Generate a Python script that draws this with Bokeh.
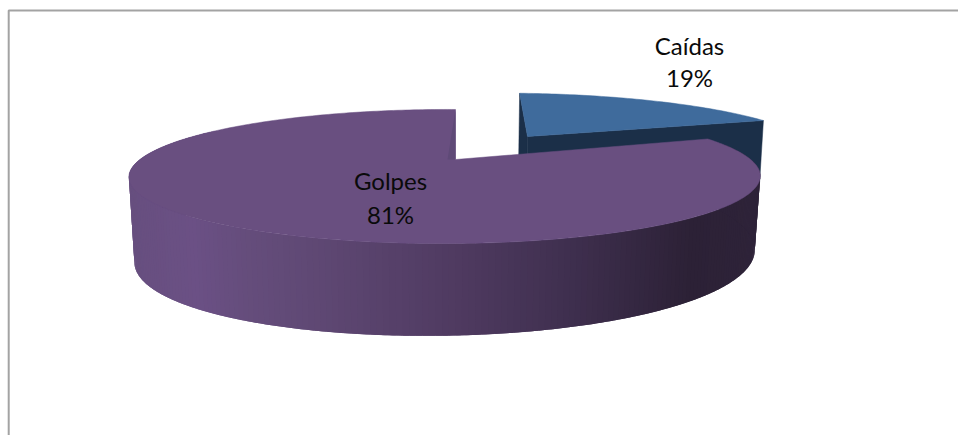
import math
from bokeh.plotting import figure
from bokeh.embed import file_html
from bokeh.resources import INLINE
from bokeh.core.properties import value

categories = ["Caídas", "Golpes"]
values = [19, 81]

W, H = 958, 435

# perspective projection of the pie disc into page pixels
X0, Y0 = 455.0, 159.0     # projected centre of the disc
A, B = 305.0, 62.7        # horizontal / vertical scale
KX, KY = 0.0335, 0.2537   # perspective terms
CAIDAS_OFFSET = (0.2626, 0.408)  # explosion of the small slice
CAIDAS_R = 1.05
CAIDAS_ROT = 1.5


def project(x, y):
    w = 1 + KX * x + KY * y
    return X0 + A * x / w, Y0 - B * y / w


def depth(x, y):
    return 75.3 - 5.8 * x - 16.7 * y


def rim(c_deg, r=1.0, off=(0.0, 0.0)):
    c = math.radians(c_deg)
    return off[0] + r * math.sin(c), off[1] + r * math.cos(c)


def side_point(c_deg):
    x, y = rim(c_deg)
    sx, sy = project(x, y)
    return sx - 0.0174 * (sx - 445), sy + depth(x, y)


total = sum(values)
caidas_sweep = 360.0 * values[0] / total

p = figure(width=W, height=H, x_range=(0, 958), y_range=(435, 0),
           output_backend="svg", toolbar_location=None, min_border=0,
           outline_line_color=None, background_fill_color="white",
           border_fill_color="white")
p.axis.visible = False
p.grid.visible = False

# chart-area frame (only top and left reach inside the photographed page)
p.line([958, 8.2, 8.2], [10, 10, 435], line_color="#a3a3a3", line_width=2)

# --- Caídas slice ---
BLUE_TOP, BLUE_DARK = "#3f6b9c", "#1b2f48"
BLUE_H, BLUE_SHRINK = 62.0, 0.012


def drop(sx, sy):
    return sx - BLUE_SHRINK * (sx - 445), sy + BLUE_H


apex = project(*CAIDAS_OFFSET)
arc = [project(*rim(CAIDAS_ROT + caidas_sweep * i / 60, CAIDAS_R, CAIDAS_OFFSET)) for i in range(61)]
for a, b in [(arc[0], apex), (apex, arc[-1])]:
    quad = [a, b, drop(*b), drop(*a)]
    p.patch([q[0] for q in quad], [q[1] for q in quad], fill_color=BLUE_DARK, line_color=BLUE_DARK, line_width=0.5)
top = [apex] + arc
p.patch([q[0] for q in top], [q[1] for q in top], fill_color=BLUE_TOP, line_color=BLUE_TOP, line_width=0.5)

# --- Golpes slice: curved wall shaded by page x, then top face ---
SHADE = [(130, (0x67, 0x4f, 0x7f)), (190, (0x6b, 0x50, 0x85)), (240, (0x65, 0x4d, 0x7c)),
         (300, (0x60, 0x49, 0x75)), (445, (0x50, 0x3b, 0x62)), (560, (0x40, 0x30, 0x50)),
         (690, (0x2c, 0x21, 0x36)), (760, (0x2e, 0x23, 0x39))]


def shade(x):
    for (x1, c1), (x2, c2) in zip(SHADE, SHADE[1:]):
        if x <= x2:
            t = max(0.0, (x - x1) / (x2 - x1))
            return "#%02x%02x%02x" % tuple(round(a + (b - a) * t) for a, b in zip(c1, c2))
    return "#%02x%02x%02x" % SHADE[-1][1]


STEPS = 240
c_start, c_end = 300.0, 75.0  # left-hand back of the wall round the front to the right
cs = [c_start + (c_end - c_start) * i / STEPS for i in range(STEPS + 1)]
for i in range(STEPS):
    c1, c2 = cs[i], cs[min(i + 2, STEPS)]
    seg = [cs[i] + (c2 - c1) * j / 3 for j in range(4)]
    upper = [project(*rim(c)) for c in seg]
    lower = [side_point(c) for c in seg]
    poly = upper + lower[::-1]
    col = shade(project(*rim(cs[i]))[0])
    p.patch([q[0] for q in poly], [q[1] for q in poly], fill_color=col, line_color=None)

PURPLE_TOP, PURPLE_INNER = "#694f80", "#5f4a77"
golpes_arc = [project(*rim(360.0 - (360.0 - caidas_sweep) * i / 300)) for i in range(301)]
centre = project(0.0, 0.0)
top = [centre] + golpes_arc
p.patch([q[0] for q in top], [q[1] for q in top], fill_color=PURPLE_TOP, line_color=PURPLE_TOP, line_width=0.5)
p.patch([centre[0], centre[0], centre[0] - 8], [golpes_arc[0][1], centre[1], centre[1]],
        fill_color=PURPLE_INNER, line_color=None)

# --- labels ---
LABEL_POS = {"Caídas": (689, 44.5, 76.5), "Golpes": (390, 179.5, 213.5)}
for name, v in zip(categories, values):
    x, y1, y2 = LABEL_POS[name]
    p.text([x, x], [y1, y2], text=[name, f"{v}%"], text_align="center", text_baseline="middle",
           text_font=value("Lato"), text_font_size="24px", text_color="#0a0a0a")

open("out.html", "w").write(file_html(p, INLINE))
